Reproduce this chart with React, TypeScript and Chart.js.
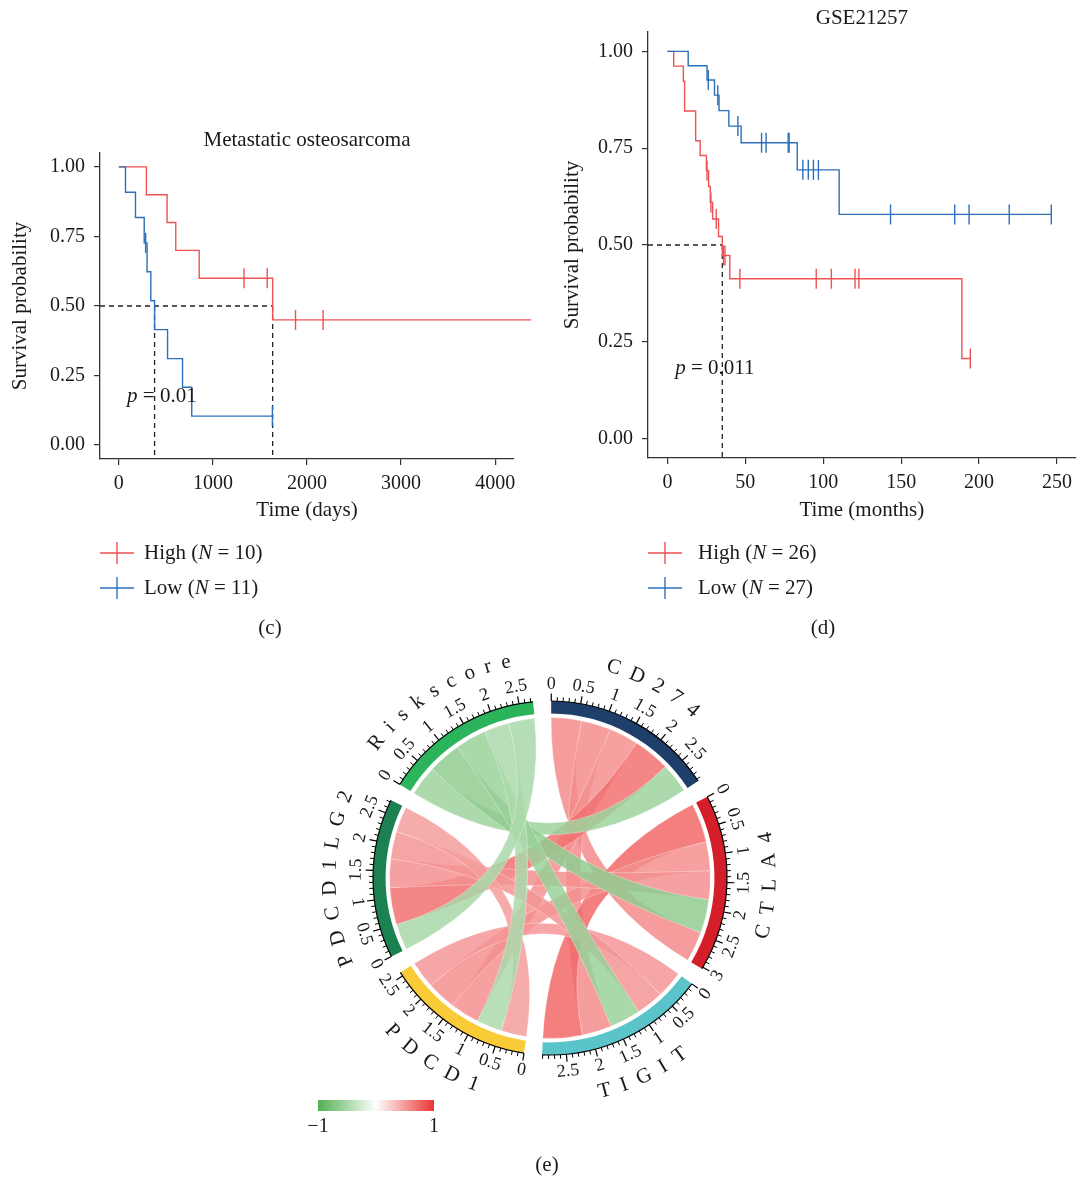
import React, { useEffect, useRef } from "react";
import { Chart, registerables } from "chart.js";

Chart.register(...registerables);

const SERIF = "'Liberation Serif', 'Times New Roman', Times, serif";
const TEXT = "#1a1a1a";
const AXIS = "#333333";
const RED = "#EE5252";
const BLUE = "#2C70BA";

// ---------------- Panel (c): Metastatic osteosarcoma (days) ----------------
const cHighTimes = [0, 293, 513, 605, 854, 1635];
const cHighSurv = [1.0, 0.9, 0.8, 0.7, 0.6, 0.45];
const cHighCensor = [1331, 1577, 1878, 2171, 4383];
const cLowTimes = [0, 71, 177, 270, 300, 340, 380, 518, 677, 775];
const cLowSurv = [1.0, 0.909, 0.818, 0.727, 0.623, 0.519, 0.415, 0.311, 0.208, 0.104];
const cLowCensor = [285, 1632];
const cMedians = [380, 1635];
const cXTicks = [0, 1000, 2000, 3000, 4000];
const cGroupN = [10, 11];
const cPValue = "0.01";

// ---------------- Panel (d): GSE21257 (months) ----------------
const dHighTimes = [0, 4.0, 10.2, 11.0, 18.1, 21.0, 25.0, 26.4, 27.5, 29.0, 32.8, 35.2, 40.0, 189.0];
const dHighSurv = [1.0, 0.962, 0.923, 0.846, 0.769, 0.731, 0.692, 0.651, 0.61, 0.567, 0.522, 0.473, 0.413, 0.207];
const dHighCensor = [25.4, 27.9, 31.3, 36.0, 36.9, 46.5, 95.5, 105.2, 120.4, 122.9, 194.4];
const dLowTimes = [0, 13.3, 25.4, 30.2, 33.1, 39.4, 47.3, 83.3, 110.2];
const dLowSurv = [1.0, 0.963, 0.926, 0.887, 0.847, 0.807, 0.764, 0.694, 0.579];
const dLowCensor = [26.2, 32.3, 45.2, 60.4, 63.3, 77.5, 78.1, 86.9, 90.4, 93.7, 96.9, 143.2, 184.4, 193.6, 219.4, 246.4];
const dMedians = [35.2];
const dXTicks = [0, 50, 100, 150, 200, 250];
const dGroupN = [26, 27];
const dPValue = "0.011";

const yTicks = [0, 0.25, 0.5, 0.75, 1];
const groupNames = ["High", "Low"];

// ---------------- Panel (e): chord diagram of correlations ----------------
const chordSectors = ["CD274", "CTLA4", "TIGIT", "PDCD1", "PDCD1LG2", "Riskscore"];
const corCD274 = [1, 0.57, 0.56, 0.55, 0.7, -0.56];
const corCTLA4 = [0.57, 1, 0.74, 0.55, 0.54, -0.63];
const corTIGIT = [0.56, 0.74, 1, 0.51, 0.52, -0.58];
const corPDCD1 = [0.55, 0.55, 0.51, 1, 0.48, -0.48];
const corPDCD1LG2 = [0.7, 0.54, 0.52, 0.48, 1, -0.49];
const corRiskscore = [-0.56, -0.63, -0.58, -0.48, -0.49, 1];
const colorbarTicks = [-1, 1];

// ---------------- styles ----------------
const sectorColors = ["#1E3F6A", "#D41F2A", "#5AC4CA", "#F9CB36", "#1B8150", "#2CB45C"];
const NEG_RGB = [80, 176, 80];
const POS_RGB = [236, 52, 52];

function ramp(v: number) {
  const c = v < 0 ? NEG_RGB : POS_RGB;
  const t = Math.min(1, Math.abs(v));
  return c.map((ch) => Math.round(255 + (ch - 255) * t));
}

function survAt(times: number[], surv: number[], t: number) {
  let s = surv[0];
  for (let i = 0; i < times.length; i++) if (times[i] <= t) s = surv[i];
  return s;
}

function stepLine(times: number[], surv: number[], censor: number[]) {
  const pts = times.map((t, i) => ({ x: t, y: surv[i] }));
  const end = Math.max(times[times.length - 1], ...censor);
  pts.push({ x: end, y: surv[surv.length - 1] });
  return pts;
}

function drawRich(ctx: any, parts: [string, boolean][], x: number, y: number, size: number) {
  ctx.textAlign = "left";
  ctx.textBaseline = "middle";
  for (const [t, it] of parts) {
    ctx.font = `${it ? "italic " : ""}${size}px ${SERIF}`;
    ctx.fillText(t, x, y);
    x += ctx.measureText(t).width;
  }
}

const Y_MIN = -0.05;
const Y_MAX = 1.05;
const TITLE_SIZE = 21;
const TICK_SIZE = 20;

function kmConfig(spec: any) {
  const { high, low, xMin, xMax, xTicks, medians, L } = spec;
  const maxMed = Math.max(...medians);
  const medianSets = [
    {
      data: [
        { x: xMin, y: 0.5 },
        { x: maxMed, y: 0.5 },
      ],
    },
    ...medians.map((m: number) => ({
      data: [
        { x: m, y: 0.5 },
        { x: m, y: Y_MIN },
      ],
    })),
  ].map((d) => ({
    ...d,
    borderColor: "#222",
    borderWidth: 1.3,
    borderDash: [5, 4],
    pointRadius: 0,
    fill: false,
    order: 3,
  }));

  const arm = (a: any, color: string, order: number) => [
    {
      data: stepLine(a.times, a.surv, a.censor),
      borderColor: color,
      borderWidth: 1.4,
      stepped: "before",
      pointRadius: 0,
      fill: false,
      clip: false,
      order,
    },
    {
      data: a.censor.map((t: number) => ({ x: t, y: survAt(a.times, a.surv, t) })),
      showLine: false,
      pointStyle: "line",
      pointRotation: 90,
      pointRadius: 10,
      pointBorderColor: color,
      pointBorderWidth: 1.4,
      clip: false,
      order,
    },
  ];

  const decor = {
    id: "kmDecor",
    afterDraw(chart: any) {
      const { ctx, chartArea: a, scales } = chart;
      ctx.save();
      ctx.fillStyle = TEXT;
      ctx.font = `${TITLE_SIZE}px ${SERIF}`;
      ctx.textAlign = "center";
      ctx.textBaseline = "middle";
      const mx = (a.left + a.right) / 2;
      ctx.fillText(spec.title, mx, L.titleY);
      ctx.fillText(spec.xLabel, mx, L.xLabelY);
      ctx.save();
      ctx.translate(L.yLabelX, (a.top + a.bottom) / 2);
      ctx.rotate(-Math.PI / 2);
      ctx.fillText("Survival probability", 0, 0);
      ctx.restore();
      // p value
      const px = scales.x.getPixelForValue(spec.pAt[0]);
      const py = scales.y.getPixelForValue(spec.pAt[1]);
      drawRich(ctx, [["p", true], [" = " + spec.pValue, false]], px, py, 21);
      // legend
      const rows = [
        [RED, groupNames[0], spec.n[0]],
        [BLUE, groupNames[1], spec.n[1]],
      ];
      rows.forEach(([color, name, n]: any, i: number) => {
        const y = L.legendY[i];
        ctx.strokeStyle = color;
        ctx.lineWidth = 1.4;
        ctx.beginPath();
        ctx.moveTo(L.legendX0, y);
        ctx.lineTo(L.legendX1, y);
        const cxm = (L.legendX0 + L.legendX1) / 2;
        ctx.moveTo(cxm, y - 11);
        ctx.lineTo(cxm, y + 11);
        ctx.stroke();
        ctx.fillStyle = TEXT;
        drawRich(ctx, [[name + " (", false], ["N", true], [" = " + n + ")", false]], L.legendTextX, y, 21);
      });
      ctx.font = `21px ${SERIF}`;
      ctx.textAlign = "center";
      ctx.fillText(spec.panel, L.panelX, L.panelY);
      ctx.restore();
    },
  };

  const common = {
    border: { display: true, color: AXIS, width: 1.3 },
    grid: { drawOnChartArea: false, drawTicks: true, tickLength: 6, color: AXIS, lineWidth: 1.2 },
  };

  return {
    type: "line",
    data: {
      datasets: [...arm(low, BLUE, 0), ...arm(high, RED, 1), ...medianSets],
    },
    options: {
      responsive: false,
      animation: false,
      events: [],
      layout: { padding: L.padding },
      plugins: { legend: { display: false }, tooltip: { enabled: false }, title: { display: false } },
      scales: {
        x: {
          type: "linear",
          min: xMin,
          max: xMax,
          ...common,
          afterBuildTicks: (s: any) => {
            s.ticks = xTicks.map((v: number) => ({ value: v }));
          },
          afterFit: (s: any) => {
            s.height = 40;
            s.paddingLeft = 0;
            s.paddingRight = 0;
          },
          ticks: {
            color: TEXT,
            font: { family: SERIF, size: TICK_SIZE },
            padding: 7,
            maxRotation: 0,
            autoSkip: false,
            callback: (v: any) => String(v),
          },
        },
        y: {
          type: "linear",
          min: Y_MIN,
          max: Y_MAX,
          ...common,
          afterBuildTicks: (s: any) => {
            s.ticks = yTicks.map((v) => ({ value: v }));
          },
          afterFit: (s: any) => {
            s.width = 60;
            s.paddingTop = 0;
            s.paddingBottom = 0;
          },
          ticks: {
            color: TEXT,
            font: { family: SERIF, size: TICK_SIZE },
            padding: 9,
            autoSkip: false,
            callback: (v: any) => Number(v).toFixed(2),
          },
        },
      },
    },
    plugins: [decor],
  };
}

const panelC = {
  title: "Metastatic osteosarcoma",
  xLabel: "Time (days)",
  high: { times: cHighTimes, surv: cHighSurv, censor: cHighCensor },
  low: { times: cLowTimes, surv: cLowSurv, censor: cLowCensor },
  xMin: -200,
  xMax: 4200,
  xTicks: cXTicks,
  medians: cMedians,
  n: cGroupN,
  pValue: cPValue,
  pAt: [88, 0.176],
  panel: "(c)",
  L: {
    padding: { left: 40, right: 31, top: 53, bottom: 141 },
    titleY: 40,
    xLabelY: 410,
    yLabelX: 20,
    legendY: [453, 488],
    legendX0: 100,
    legendX1: 134,
    legendTextX: 144,
    panelX: 270,
    panelY: 528,
  },
};

const panelD = {
  title: "GSE21257",
  xLabel: "Time (months)",
  high: { times: dHighTimes, surv: dHighSurv, censor: dHighCensor },
  low: { times: dLowTimes, surv: dLowSurv, censor: dLowCensor },
  xMin: -12.5,
  xMax: 262,
  xTicks: dXTicks,
  medians: dMedians,
  n: dGroupN,
  pValue: dPValue,
  pAt: [5, 0.18],
  panel: "(d)",
  L: {
    padding: { left: 40, right: 0, top: 32, bottom: 142 },
    titleY: 18,
    xLabelY: 510,
    yLabelX: 24,
    legendY: [553, 588],
    legendX0: 100,
    legendX1: 134,
    legendTextX: 150,
    panelX: 275,
    panelY: 628,
  },
};

// ---------------- chord diagram ----------------
const GAP_DEG = 5.9;
const LETTER_GAP = 10.5;
const FLIP_TOL = (1 * Math.PI) / 180;

function chordConfig() {
  const rows = [corCD274, corCTLA4, corTIGIT, corPDCD1, corPDCD1LG2, corRiskscore];
  const n = chordSectors.length;
  const totals = rows.map((row, i) => row.reduce((s, v, j) => (j === i ? s : s + Math.abs(v)), 0));
  const sum = totals.reduce((a, b) => a + b, 0);
  const gapUnits = (GAP_DEG / (360 - GAP_DEG * n)) * sum;
  const data = totals.flatMap((t) => [t, gapUnits]);
  const colors = sectorColors.flatMap((c) => [c, "rgba(0,0,0,0)"]);
  const labels = chordSectors.flatMap((s) => [s, ""]);

  // link segments: on sector i, band k goes to sector (i+k) % n
  const seg: number[][][] = rows.map(() => []);
  rows.forEach((row, i) => {
    let u = 0;
    for (let k = 1; k < n; k++) {
      const j = (i + k) % n;
      const w = Math.abs(row[j]);
      seg[i][j] = [u, u + w];
      u += w;
    }
  });

  const flipped = (th: number) => Math.sin(th) > Math.sin(FLIP_TOL);

  const plugin = {
    id: "chordLinks",
    afterDatasetsDraw(chart: any) {
      const ctx = chart.ctx;
      const arcs = chart.getDatasetMeta(0).data;
      const secs = chordSectors.map((_, i) =>
        arcs[2 * i].getProps(["x", "y", "startAngle", "endAngle", "innerRadius", "outerRadius"], true)
      );
      const cx = secs[0].x;
      const cy = secs[0].y;
      const R = secs[0].outerRadius;
      const rLink = secs[0].innerRadius - 4;
      const ang = (i: number, u: number) =>
        secs[i].startAngle + (u / totals[i]) * (secs[i].endAngle - secs[i].startAngle);
      const pt = (r: number, a: number) => [cx + r * Math.cos(a), cy + r * Math.sin(a)];

      // links
      const pairs: any[] = [];
      for (let i = 0; i < n; i++) for (let j = i + 1; j < n; j++) pairs.push({ i, j, r: rows[i][j] });
      pairs.sort((p, q) => (p.r < 0 ? 1 : 0) - (q.r < 0 ? 1 : 0));
      ctx.save();
      for (const p of pairs) {
        const a1 = ang(p.i, seg[p.i][p.j][0]);
        const a2 = ang(p.i, seg[p.i][p.j][1]);
        const b1 = ang(p.j, seg[p.j][p.i][0]);
        const b2 = ang(p.j, seg[p.j][p.i][1]);
        const [x1, y1] = pt(rLink, a1);
        const [x3, y3] = pt(rLink, b1);
        ctx.beginPath();
        ctx.moveTo(x1, y1);
        ctx.arc(cx, cy, rLink, a1, a2);
        ctx.quadraticCurveTo(cx, cy, x3, y3);
        ctx.arc(cx, cy, rLink, b1, b2);
        ctx.quadraticCurveTo(cx, cy, x1, y1);
        ctx.closePath();
        const c = ramp(p.r);
        ctx.fillStyle = `rgba(${c[0]},${c[1]},${c[2]},0.85)`;
        ctx.fill();
        ctx.strokeStyle = "rgba(255,255,255,0.45)";
        ctx.lineWidth = 0.7;
        ctx.stroke();
      }

      // axes
      ctx.strokeStyle = "#000";
      ctx.fillStyle = TEXT;
      for (let i = 0; i < n; i++) {
        ctx.lineWidth = 1.2;
        ctx.beginPath();
        ctx.arc(cx, cy, R, secs[i].startAngle, secs[i].endAngle);
        ctx.stroke();
        const kMax = Math.floor(totals[i] * 10 + 1e-6);
        for (let k = 0; k <= kMax; k++) {
          const u = k / 10;
          const a = ang(i, u);
          const major = k % 5 === 0;
          const len = major ? 7.5 : 4;
          const [xa, ya] = pt(R, a);
          const [xb, yb] = pt(R + len, a);
          ctx.lineWidth = major ? 1.2 : 1;
          ctx.beginPath();
          ctx.moveTo(xa, ya);
          ctx.lineTo(xb, yb);
          ctx.stroke();
          if (major) {
            const [xl, yl] = pt(R + 17, a);
            ctx.save();
            ctx.translate(xl, yl);
            ctx.rotate(flipped(a) ? a - Math.PI / 2 : a + Math.PI / 2);
            ctx.font = `18px ${SERIF}`;
            ctx.textAlign = "center";
            ctx.textBaseline = "middle";
            ctx.fillText(String(u), 0, 0);
            ctx.restore();
          }
        }
        // sector name, letters bent along the circle
        const name = chordSectors[i];
        const mid = (secs[i].startAngle + secs[i].endAngle) / 2;
        const flip = flipped(mid);
        const rName = R + 43;
        ctx.font = `21px ${SERIF}`;
        const ws = name.split("").map((ch) => ctx.measureText(ch).width);
        const pos: number[] = [];
        let s = 0;
        ws.forEach((w, k) => {
          if (k > 0) s += ws[k - 1] / 2 + w / 2 + LETTER_GAP;
          pos.push(s);
        });
        const total = s;
        name.split("").forEach((ch, k) => {
          const off = (pos[k] - total / 2) / rName;
          const a = mid + (flip ? -off : off);
          const [xl, yl] = pt(rName, a);
          ctx.save();
          ctx.translate(xl, yl);
          ctx.rotate(flip ? a - Math.PI / 2 : a + Math.PI / 2);
          ctx.textAlign = "center";
          ctx.textBaseline = "middle";
          ctx.fillText(ch, 0, 0);
          ctx.restore();
        });
      }

      // colour bar legend
      const bx0 = 18;
      const bx1 = 134;
      const by = 472;
      const grad = ctx.createLinearGradient(bx0, 0, bx1, 0);
      const lo = ramp(colorbarTicks[0]);
      const hi = ramp(colorbarTicks[1]);
      grad.addColorStop(0, `rgb(${lo.join(",")})`);
      grad.addColorStop(0.5, "rgb(255,255,255)");
      grad.addColorStop(1, `rgb(${hi.join(",")})`);
      ctx.fillStyle = grad;
      ctx.fillRect(bx0, by, bx1 - bx0, 11);
      ctx.fillStyle = TEXT;
      ctx.font = `20px ${SERIF}`;
      ctx.textAlign = "center";
      ctx.textBaseline = "middle";
      colorbarTicks.forEach((v) => {
        const x = bx0 + ((v - colorbarTicks[0]) / (colorbarTicks[1] - colorbarTicks[0])) * (bx1 - bx0);
        ctx.fillText(v < 0 ? "\u2212" + Math.abs(v) : String(v), x, 499);
      });
      ctx.font = `21px ${SERIF}`;
      ctx.fillText("(e)", 247, 537);
      ctx.restore();
    },
  };

  return {
    type: "doughnut",
    data: {
      labels,
      datasets: [{ data, backgroundColor: colors, borderWidth: 0, hoverOffset: 0 }],
    },
    options: {
      responsive: false,
      animation: false,
      events: [],
      cutout: "92.9%",
      rotation: 0.4,
      circumference: 360,
      layout: { padding: { left: 73, right: 73, top: 73, bottom: 124 } },
      plugins: { legend: { display: false }, tooltip: { enabled: false } },
    },
    plugins: [plugin],
  };
}

export default function App() {
  const cRef = useRef<HTMLCanvasElement>(null);
  const dRef = useRef<HTMLCanvasElement>(null);
  const eRef = useRef<HTMLCanvasElement>(null);

  useEffect(() => {
    const charts: Chart[] = [];
    if (cRef.current) charts.push(new Chart(cRef.current, kmConfig(panelC) as any));
    if (dRef.current) charts.push(new Chart(dRef.current, kmConfig(panelD) as any));
    if (eRef.current) charts.push(new Chart(eRef.current, chordConfig() as any));
    return () => charts.forEach((c) => c.destroy());
  }, []);

  return (
    <div
      style={{
        position: "absolute",
        left: 0,
        top: 0,
        width: 1087,
        height: 1179,
        background: "#ffffff",
        overflow: "hidden",
      }}
    >
      <canvas ref={cRef} width={545} height={540} style={{ position: "absolute", left: 0, top: 100 }} />
      <canvas ref={dRef} width={539} height={640} style={{ position: "absolute", left: 548, top: 0 }} />
      <canvas ref={eRef} width={500} height={551} style={{ position: "absolute", left: 300, top: 628 }} />
    </div>
  );
}
